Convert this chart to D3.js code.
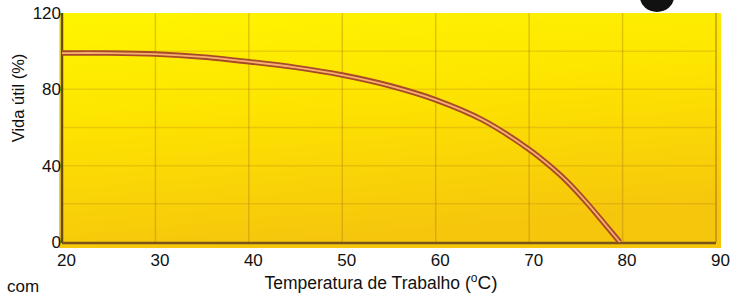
<!DOCTYPE html>
<html>
<head>
<meta charset="utf-8">
<script src="https://cdn.jsdelivr.net/npm/d3@7"></script>
<style>
  html, body { margin: 0; padding: 0; background: #fff; }
  svg { display: block; font-family: "Liberation Sans", Arial, sans-serif; }
</style>
</head>
<body>
<div id="chart"></div>
<script>
// Vida útil vs temperatura de trabalho
const tempTicks = [20, 30, 40, 50, 60, 70, 80, 90];
const lifeTicks = [0, 40, 80, 120];
const gridLife = [20, 40, 60, 80, 100];
const temps = [20, 25, 30, 35, 40, 45, 50, 55, 60, 65, 70, 72, 74, 76, 78, 79.7];
const life  = [99, 99, 98.5, 97, 94.5, 91.5, 87.5, 82, 74.5, 64, 48.5, 40.8, 32, 21.5, 10, 0];

const width = 742, height = 297;
const svg = d3.select('#chart').append('svg')
    .attr('width', width)
    .attr('height', height);

const x = d3.scaleLinear().domain([20, 90]).range([62, 716]);
const y = d3.scaleLinear().domain([0, 120]).range([242, 13]);

const defs = svg.append('defs');
const bg = defs.append('linearGradient')
    .attr('id', 'bg')
    .attr('x1', '0%').attr('y1', '0%')
    .attr('x2', '25%').attr('y2', '100%');
bg.append('stop').attr('offset', '0%').attr('stop-color', '#fff500');
bg.append('stop').attr('offset', '45%').attr('stop-color', '#fde400');
bg.append('stop').attr('offset', '100%').attr('stop-color', '#f6c60c');

// Yellow panel
svg.append('rect')
    .attr('x', x(20) - 3)
    .attr('y', y(120))
    .attr('width', x(90) - x(20) + 8)
    .attr('height', y(0) - y(120) + 6)
    .attr('fill', 'url(#bg)');

// Grid
const grid = svg.append('g').attr('class', 'grid');
grid.selectAll('line.v')
    .data(tempTicks.slice(1))
    .enter().append('line')
    .attr('class', 'v')
    .attr('x1', d => x(d)).attr('x2', d => x(d))
    .attr('y1', y(120)).attr('y2', y(0))
    .attr('stroke', d => d === 90 ? 'rgba(150,100,20,0.55)' : 'rgba(170,120,20,0.35)')
    .attr('stroke-width', 1.5);
grid.selectAll('line.h')
    .data(gridLife)
    .enter().append('line')
    .attr('class', 'h')
    .attr('x1', x(20)).attr('x2', x(90))
    .attr('y1', d => y(d)).attr('y2', d => y(d))
    .attr('stroke', 'rgba(190,130,20,0.28)')
    .attr('stroke-width', 1.5);

// Axis lines
svg.append('line')
    .attr('x1', x(20)).attr('x2', x(20))
    .attr('y1', y(120)).attr('y2', y(0) + 1)
    .attr('stroke', '#6a4816').attr('stroke-width', 2.5);
svg.append('line')
    .attr('x1', x(20)).attr('x2', x(90))
    .attr('y1', y(0) + 1).attr('y2', y(0) + 1)
    .attr('stroke', '#7a5418').attr('stroke-width', 2.5);

// Curve: brown double line
const points = temps.map((t, i) => [t, life[i]]);
const line = d3.line()
    .x(d => x(d[0]))
    .y(d => y(d[1]))
    .curve(d3.curveCatmullRom.alpha(0.5));

svg.append('path')
    .datum(points)
    .attr('d', line)
    .attr('fill', 'none')
    .attr('stroke', '#a84a28')
    .attr('stroke-width', 5.5);
svg.append('path')
    .datum(points)
    .attr('d', line)
    .attr('fill', 'none')
    .attr('stroke', '#f6b070')
    .attr('stroke-width', 1.8);

// Tick labels
const xAxis = svg.append('g')
    .attr('transform', `translate(4,${y(0) + 12})`)
    .call(d3.axisBottom(x).tickValues(tempTicks).tickSize(0).tickPadding(0));
xAxis.select('.domain').remove();
xAxis.selectAll('text')
    .attr('font-size', 17)
    .attr('font-family', '"Liberation Sans", Arial, sans-serif')
    .attr('fill', '#111');

const yAxis = svg.append('g')
    .attr('transform', `translate(${x(20) - 1},0)`)
    .call(d3.axisLeft(y).tickValues(lifeTicks).tickSize(0).tickPadding(0));
yAxis.select('.domain').remove();
yAxis.selectAll('text')
    .attr('font-size', 17)
    .attr('font-family', '"Liberation Sans", Arial, sans-serif')
    .attr('fill', '#111');

// Axis titles
const xt = svg.append('text')
    .attr('x', 381)
    .attr('y', 289)
    .attr('text-anchor', 'middle')
    .attr('font-size', 17.5)
    .attr('fill', '#111');
xt.append('tspan').text('Temperatura de Trabalho (');
xt.append('tspan').attr('font-size', 12).attr('dy', -7).text('o');
xt.append('tspan').attr('font-size', 19).attr('dy', 7).text('C)');

svg.append('text')
    .attr('transform', 'translate(24,98) rotate(-90)')
    .attr('text-anchor', 'middle')
    .attr('font-size', 16.5)
    .attr('fill', '#111')
    .text('Vida útil (%)');

svg.append('text')
    .attr('x', 7)
    .attr('y', 292)
    .attr('font-size', 17)
    .attr('fill', '#111')
    .text('com');

// Partial black logo at top right
svg.append('ellipse')
    .attr('cx', 657).attr('cy', -3)
    .attr('rx', 17).attr('ry', 15)
    .attr('fill', '#111');
</script>
</body>
</html>
